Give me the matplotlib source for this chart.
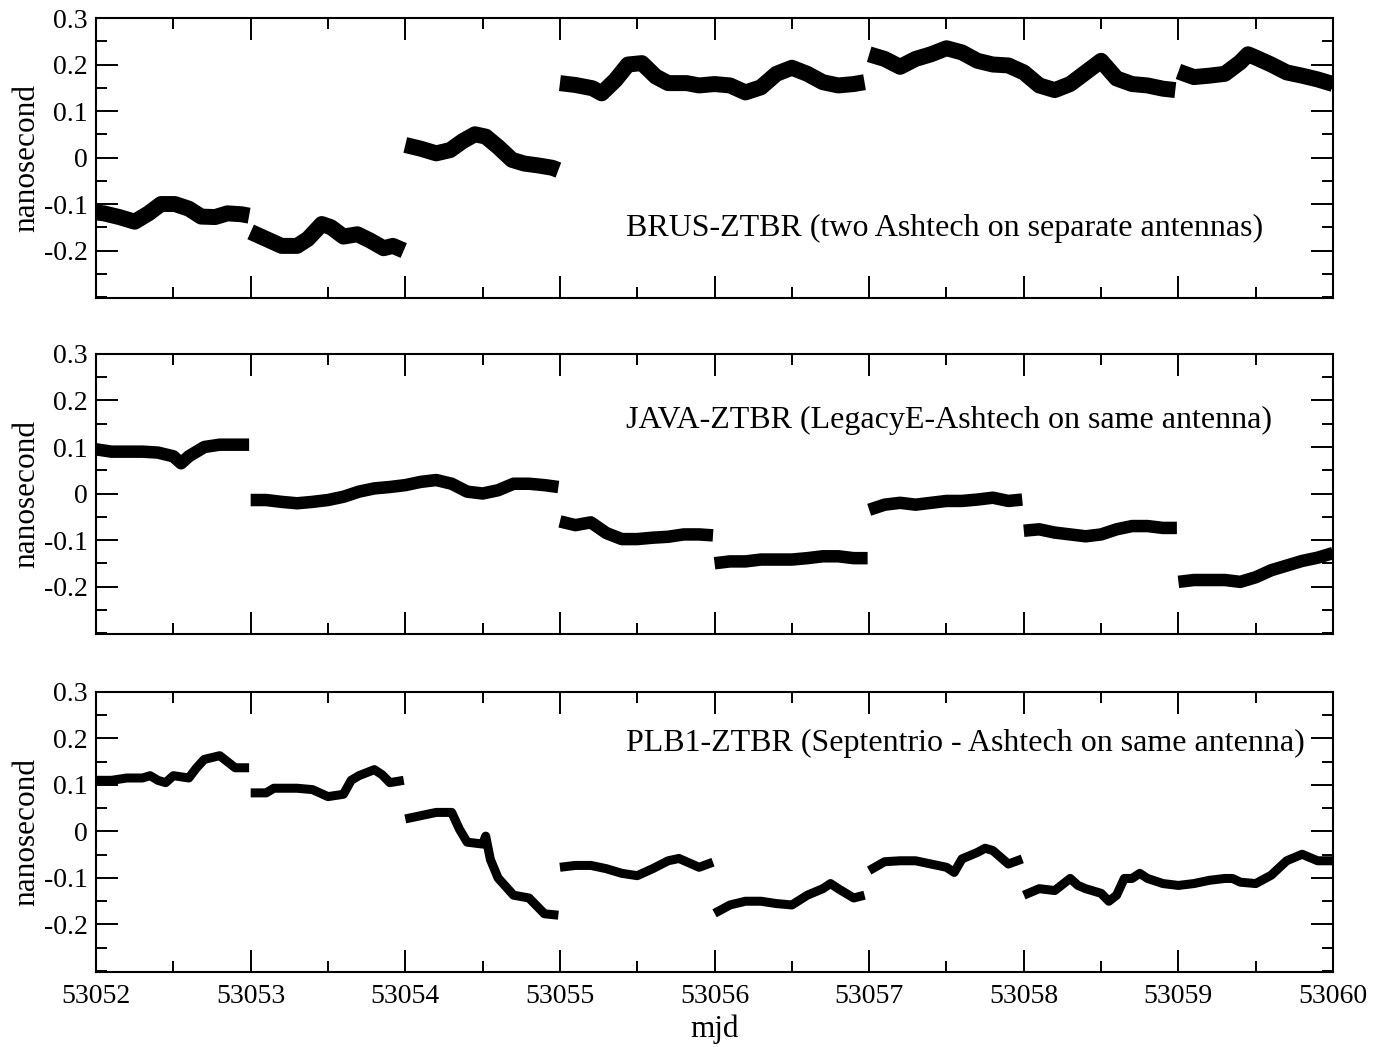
import matplotlib
matplotlib.use('Agg')
import matplotlib.pyplot as plt
import numpy as np
from matplotlib.ticker import MultipleLocator

plt.rcParams['font.family'] = ['Liberation Serif', 'DejaVu Serif']

# x ticks (mjd) and y ticks
xticks = [53052, 53053, 53054, 53055, 53056, 53057, 53058, 53059, 53060]
yticks = [-0.2, -0.1, 0, 0.1, 0.2, 0.3]
ytick_labels = ['-0.2', '-0.1', '0', '0.1', '0.2', '0.3']

# ---- BRUS-ZTBR : each segment = (start mjd, offsets, values)
brus_starts = [53052, 53053, 53054, 53055, 53057, 53059]
brus_t = [
    [0, .05, .15, .25, .34, .42, .51, .6, .68, .77, .85, .94, .99],
    [0, .1, .2, .3, .37, .46, .52, .6, .69, .77, .86, .92, .99],
    [0, .1, .2, .29, .37, .45, .52, .6, .69, .77, .86, .95, .99],
    [0, .1, .21, .27, .36, .44, .53, .62, .7, .82, .9, 1.0, 1.1, 1.2, 1.3, 1.4, 1.5, 1.6, 1.7, 1.8, 1.9, 1.97],
    [0, .1, .2, .3, .4, .5, .6, .7, .8, .9, 1.0, 1.1, 1.2, 1.3, 1.4, 1.5, 1.6, 1.7, 1.8, 1.9, 1.98],
    [0, .1, .2, .3, .4, .45, .5, .6, .7, .8, .9, 1.0],
]
brus_v = [
    [-0.118, -0.12, -0.128, -0.138, -0.12, -0.1, -0.1, -0.11, -0.127, -0.128, -0.12, -0.122, -0.125],
    [-0.16, -0.175, -0.19, -0.19, -0.175, -0.143, -0.15, -0.17, -0.165, -0.178, -0.195, -0.19, -0.2],
    [0.027, 0.019, 0.009, 0.016, 0.035, 0.05, 0.045, 0.023, -0.005, -0.013, -0.017, -0.022, -0.027],
    [0.16, 0.156, 0.149, 0.138, 0.167, 0.2, 0.203, 0.174, 0.16, 0.16, 0.155, 0.158, 0.155, 0.14, 0.151, 0.18, 0.193, 0.18, 0.162, 0.155, 0.158, 0.162],
    [0.222, 0.212, 0.195, 0.212, 0.222, 0.235, 0.226, 0.208, 0.2, 0.198, 0.183, 0.155, 0.145, 0.158, 0.183, 0.208, 0.17, 0.158, 0.155, 0.148, 0.145],
    [0.185, 0.173, 0.176, 0.18, 0.205, 0.222, 0.215, 0.2, 0.183, 0.176, 0.168, 0.158],
]

# ---- JAVA-ZTBR
java_starts = [53052, 53053, 53055, 53056, 53057, 53058, 53059]
day_t = [0, .1, .2, .3, .4, .5, .6, .7, .8, .9, .99]
java_t = [
    [0, .1, .2, .3, .4, .5, .55, .6, .7, .8, .9, .99],
    [0, .1, .2, .3, .4, .5, .6, .7, .8, .9, 1.0, 1.1, 1.2, 1.3, 1.4, 1.5, 1.6, 1.7, 1.8, 1.9, 1.99],
    day_t, day_t, day_t, day_t,
    [0, .1, .2, .3, .4, .5, .6, .7, .8, .9, 1.0],
]
java_v = [
    [0.095, 0.09, 0.09, 0.09, 0.088, 0.08, 0.065, 0.08, 0.1, 0.105, 0.105, 0.105],
    [-0.014, -0.014, -0.018, -0.021, -0.018, -0.014, -0.007, 0.004, 0.011, 0.014, 0.018, 0.025, 0.029, 0.021, 0.004, 0.0, 0.007, 0.021, 0.021, 0.018, 0.014],
    [-0.06, -0.068, -0.062, -0.085, -0.098, -0.098, -0.095, -0.093, -0.088, -0.088, -0.09],
    [-0.15, -0.146, -0.146, -0.142, -0.142, -0.142, -0.139, -0.135, -0.135, -0.139, -0.139],
    [-0.035, -0.024, -0.02, -0.024, -0.02, -0.016, -0.016, -0.013, -0.009, -0.016, -0.013],
    [-0.08, -0.077, -0.084, -0.088, -0.092, -0.088, -0.077, -0.07, -0.07, -0.074, -0.074],
    [-0.19, -0.186, -0.186, -0.186, -0.19, -0.18, -0.165, -0.155, -0.145, -0.138, -0.128],
]

# ---- PLB1-ZTBR
plb1_starts = [53052, 53053, 53054, 53055, 53056, 53057, 53058]
plb1_t = [
    [0, .1, .2, .3, .35, .4, .45, .5, .6, .65, .7, .8, .85, .9, .99],
    [0, .1, .15, .2, .3, .4, .5, .6, .65, .7, .8, .85, .9, .99],
    [0, .1, .2, .3, .35, .4, .5, .52, .55, .6, .7, .8, .85, .9, .99],
    [0, .1, .2, .3, .4, .5, .6, .7, .77, .9, .99],
    [0, .1, .2, .3, .4, .5, .6, .7, .75, .8, .9, .97],
    [0, .1, .2, .3, .4, .5, .55, .6, .7, .75, .8, .9, .99],
    [0, .1, .2, .3, .35, .4, .5, .55, .6, .65, .7, .75, .8, .9, 1.0, 1.1, 1.2, 1.3, 1.35, 1.4, 1.5, 1.6, 1.7, 1.8, 1.9, 2.0],
]
plb1_v = [
    [0.11, 0.11, 0.115, 0.115, 0.12, 0.11, 0.105, 0.12, 0.115, 0.137, 0.155, 0.163, 0.15, 0.137, 0.137],
    [0.083, 0.083, 0.093, 0.093, 0.093, 0.09, 0.075, 0.08, 0.11, 0.12, 0.133, 0.122, 0.105, 0.11],
    [0.027, 0.034, 0.041, 0.041, 0.005, -0.023, -0.027, -0.01, -0.06, -0.1, -0.137, -0.143, -0.16, -0.177, -0.18],
    [-0.077, -0.073, -0.073, -0.08, -0.09, -0.095, -0.08, -0.063, -0.058, -0.077, -0.066],
    [-0.176, -0.158, -0.15, -0.15, -0.155, -0.158, -0.137, -0.123, -0.112, -0.123, -0.143, -0.137],
    [-0.084, -0.065, -0.063, -0.063, -0.07, -0.077, -0.088, -0.059, -0.045, -0.036, -0.041, -0.07, -0.059],
    [-0.137, -0.123, -0.127, -0.101, -0.116, -0.123, -0.133, -0.15, -0.137, -0.101, -0.101, -0.09, -0.101, -0.112, -0.116, -0.112, -0.105, -0.101, -0.101, -0.109, -0.112, -0.094, -0.063, -0.049, -0.063, -0.063],
]

titles = ['BRUS-ZTBR (two Ashtech on separate antennas)',
          'JAVA-ZTBR (LegacyE-Ashtech on same antenna)',
          'PLB1-ZTBR (Septentrio - Ashtech on same antenna)']
title_y = [-0.153, 0.157, 0.19]

panels = [(brus_starts, brus_t, brus_v, 11.5),
          (java_starts, java_t, java_v, 9),
          (plb1_starts, plb1_t, plb1_v, 6.5)]

fig = plt.figure(figsize=(13.74, 10.47), dpi=100)
tops = [0.9828, 0.6619, 0.3391]
h = 0.2674

for i, (starts, ts, vs, lw) in enumerate(panels):
    ax = fig.add_axes([0.0699, tops[i] - h, 0.9003, h])
    for s, t, v in zip(starts, ts, vs):
        ax.plot(s + np.array(t), v, color='black', lw=lw,
                solid_capstyle='butt', solid_joinstyle='round')
    ax.set_xlim(53052, 53060)
    ax.set_ylim(-0.302, 0.3)
    ax.set_xticks(xticks)
    ax.set_yticks(yticks)
    ax.set_yticklabels(ytick_labels)
    ax.xaxis.set_minor_locator(MultipleLocator(0.5))
    ax.yaxis.set_minor_locator(MultipleLocator(0.05))
    ax.tick_params(which='both', direction='in', top=True, right=True, width=1.4, labelsize=20)
    ax.tick_params(which='major', length=16)
    ax.tick_params(which='minor', length=8)
    ax.tick_params(axis='x', pad=9)
    ax.tick_params(axis='y', pad=6)
    for sp in ax.spines.values():
        sp.set_linewidth(1.5)
    ax.set_ylabel('nanosecond', fontsize=22.5)
    ax.yaxis.set_label_coords(-0.044, 0.5)
    ax.text(53055.43, title_y[i], titles[i], fontsize=23, ha='left', va='center')
    if i < 2:
        ax.set_xticklabels([])
    else:
        ax.set_xlabel('mjd', fontsize=22.5, labelpad=4)

fig.savefig('out.png', dpi=100)
